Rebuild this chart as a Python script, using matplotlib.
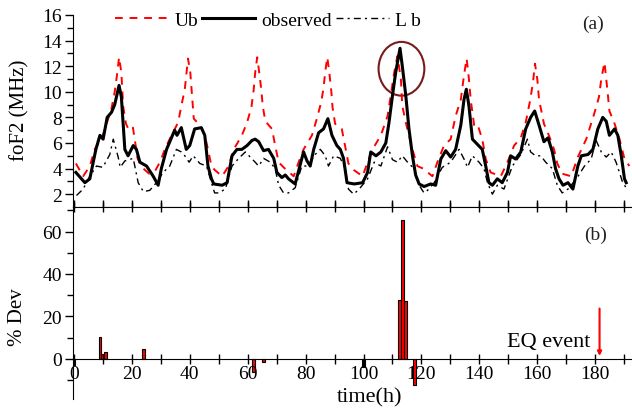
import matplotlib
matplotlib.use("Agg")
import matplotlib.pyplot as plt
from matplotlib.patches import Ellipse

# ---------------- data ----------------
obs_t = [0.7, 3.8, 5.5, 6.7, 7.6, 9.0, 10.1, 11.5, 13.0, 14.1, 15.6, 16.4, 17.6, 18.7, 20.5, 21.6, 22.8,
         25.1, 27.4, 29.1, 30.2, 32.0, 33.7, 34.8, 35.6, 37.1, 38.8, 40.0, 41.7, 44.0, 45.2, 46.3, 47.5,
         48.3, 51.2, 52.9, 54.6, 56.3, 58.0, 59.8, 61.5, 62.6, 63.8, 65.5, 67.2, 69.0, 70.1, 71.8,
         73.0, 74.1, 76.4, 77.8, 79.3, 80.5, 81.6, 82.8, 84.5, 86.2, 87.7, 89.1, 90.8, 92.0, 93.1, 94.3,
         96.8, 99.7, 101.4, 102.5, 104.3, 106.0, 107.7, 108.8, 110.0, 111.1, 112.6, 113.4, 114.6, 115.7,
         116.9, 118.0, 119.2, 120.9, 123.2, 124.9, 126.7, 128.4, 130.1, 131.8, 133.6, 134.7, 135.5, 136.4,
         137.6, 139.3, 141.0, 142.2, 143.3, 144.5, 146.2, 147.9, 149.7, 150.8, 152.5, 154.3, 156.0, 157.7,
         159.1, 160.6, 162.3, 163.7, 165.2, 166.3, 167.5, 168.9, 170.6, 172.3, 174.0, 175.2, 177.5, 179.2,
         180.9, 182.6, 183.8, 184.9, 186.7, 187.8, 189.0, 190.1, 190.7]
obs_v = [3.7, 2.9, 3.2, 4.5, 5.5, 6.6, 6.3, 8.0, 8.4, 9.0, 10.5, 9.6, 5.5, 5.0, 5.8, 5.5, 4.5,
         4.2, 3.4, 2.7, 4.0, 5.5, 6.4, 7.0, 6.6, 7.2, 5.5, 5.8, 7.1, 7.2, 6.6, 4.2, 3.2,
         2.8, 2.7, 2.9, 5.0, 5.5, 5.5, 5.8, 6.2, 6.3, 6.1, 5.4, 5.5, 4.8, 3.7, 3.3,
         3.5, 3.2, 2.8, 4.0, 5.3, 4.6, 4.2, 5.5, 6.8, 7.1, 7.9, 6.6, 5.8, 5.5, 4.8, 2.9,
         2.8, 2.9, 3.7, 5.3, 5.0, 5.3, 6.0, 7.6, 9.7, 11.5, 13.4, 12.0, 9.7, 7.1,
         5.0, 3.5, 2.8, 2.6, 2.8, 2.7, 4.75, 5.4, 4.9, 5.5, 7.4, 9.4, 10.2, 8.9,
         6.3, 5.9, 5.5, 4.2, 2.9, 2.7, 3.2, 2.9, 3.7, 5.0, 4.75, 5.3, 7.1, 8.0,
         8.5, 7.4, 6.1, 6.4, 5.3, 4.0, 3.2, 2.7, 2.9, 2.4, 4.2, 5.0, 5.1, 5.5,
         7.1, 8.0, 7.7, 6.6, 7.1, 6.6, 5.0, 3.2, 2.9]

ub_t = [0.7, 3.2, 5.5, 7.2, 10.0, 13.0, 14.1, 15.0, 15.6, 16.4, 17.0, 18.0, 19.0, 20.4, 21.2, 22.0, 23.0,
        24.0, 26.0, 28.0, 29.7, 31.4, 33.7, 36.0, 37.1, 38.3, 39.4, 40.2, 40.9, 41.4, 43.5, 45.2, 46.3, 47.5,
        48.6, 51.2, 53.4, 55.2, 58.0, 59.8, 61.3, 62.1, 62.6, 63.3, 64.0, 64.7, 65.2, 66.1, 68.4, 69.5, 70.7,
        72.4, 75.9, 77.6, 79.3, 82.2, 83.9, 85.4, 86.2, 86.8, 87.5, 88.2, 88.9, 89.3, 90.2, 92.5, 93.7, 94.8,
        96.6, 99.7, 101.4, 103.1, 106.0, 108.3, 109.4, 110.6, 111.7, 112.9, 113.4, 114.6, 115.7, 116.9, 118.6,
        120.6, 123.8, 125.5, 127.8, 130.1, 131.8, 133.6, 134.7, 135.6, 136.4, 137.0, 138.2, 139.3, 141.0, 142.2,
        143.9, 147.4, 149.7, 152.0, 154.3, 156.0, 157.5, 158.5, 159.2, 160.0, 160.6, 162.3, 164.0, 165.8, 166.9,
        168.6, 171.7, 174.0, 176.9, 179.8, 181.3, 182.1, 183.2, 184.4, 184.9, 186.7, 188.4, 190.1, 191.8]
ub_v = [4.4, 3.4, 4.2, 5.5, 6.6, 8.7, 10.0, 11.5, 12.7, 11.5, 8.9, 7.5, 7.0, 7.2, 6.0, 4.8, 4.3,
        4.0, 3.6, 3.8, 4.5, 5.5, 6.6, 7.6, 8.9, 10.2, 12.6, 11.5, 9.4, 7.9, 7.4, 6.6, 5.5, 4.2,
        3.9, 3.4, 4.2, 5.5, 6.6, 7.6, 8.8, 10.2, 11.5, 12.7, 11.5, 10.2, 8.9, 7.7, 7.1, 5.8, 4.5,
        4.1, 3.4, 4.5, 5.5, 6.6, 7.9, 9.2, 10.3, 11.6, 12.7, 11.5, 10.0, 8.8, 7.5, 7.1, 5.7, 4.4,
        3.9, 3.4, 4.5, 5.5, 6.6, 8.1, 9.7, 11.5, 12.8, 11.0, 8.9, 7.6, 6.6, 5.5, 4.2,
        4.0, 3.4, 4.5, 5.8, 6.3, 8.1, 9.4, 11.3, 12.6, 11.0, 9.4, 7.4, 7.5, 6.3, 4.75,
        3.7, 3.4, 4.5, 5.8, 6.4, 7.6, 9.3, 10.7, 12.2, 11.0, 9.4, 7.5, 6.6, 5.5, 4.4,
        3.6, 3.4, 4.9, 6.3, 8.4, 9.6, 11.0, 12.3, 9.7, 8.5, 7.5, 6.3, 4.75, 4.2]

lb_t = [0.9, 3.2, 5.5, 7.8, 10.0, 12.4, 13.6, 15.3, 16.0, 17.6, 20.5, 22.2, 24.0, 26.2, 28.5, 30.8, 33.1,
        35.4, 37.1, 38.3, 39.8, 41.2, 43.5, 45.8, 47.5, 48.6, 50.0, 52.3, 54.6, 56.9, 59.2, 60.9, 62.6, 63.8,
        65.5, 67.8, 69.5, 70.7, 72.4, 74.1, 76.4, 78.7, 81.0, 83.3, 85.1, 86.8, 87.9, 89.7, 92.0, 93.7, 94.8,
        96.6, 98.5, 101.4, 103.7, 106.0, 108.3, 110.0, 111.7, 113.4, 115.2, 117.5, 119.2, 120.9, 122.1, 124.4,
        127.2, 130.1, 133.0, 134.7, 135.9, 137.6, 139.9, 141.6, 142.8, 144.5, 146.2, 148.5, 151.4, 154.3,
        156.6, 157.7, 159.4, 161.2, 162.9, 165.2, 166.9, 168.6, 170.6, 173.5, 176.3, 178.6, 180.3, 182.1,
        183.8, 185.5, 187.2, 189.5, 191.3]
lb_v = [1.9, 2.4, 3.4, 4.2, 4.1, 5.1, 6.3, 4.9, 4.1, 4.6, 4.8, 2.9, 2.2, 2.3, 2.9, 3.7, 4.2,
        5.5, 5.3, 5.0, 4.5, 5.0, 4.4, 4.2, 2.9, 2.1, 2.1, 2.4, 4.2, 4.8, 5.3, 4.9, 4.5, 4.2,
        4.8, 4.5, 4.0, 2.7, 2.1, 2.1, 2.5, 4.2, 4.2, 5.1, 5.5, 5.0, 4.2, 5.0, 4.8, 4.0, 2.4,
        2.0, 2.4, 3.2, 4.5, 4.2, 5.7, 4.7, 4.5, 5.0, 4.5, 4.0, 2.7, 2.1, 2.3, 2.9,
        4.1, 4.5, 5.5, 4.75, 4.1, 5.0, 4.5, 4.0, 2.9, 2.0, 2.7, 2.4, 4.2, 5.1,
        6.3, 5.3, 5.0, 5.0, 4.5, 4.0, 2.7, 2.1, 2.4, 3.2, 4.2, 4.75, 6.2, 5.3,
        4.9, 5.3, 4.5, 2.9, 2.3]

dev_t = [0, 9, 10, 11, 24, 62, 65.5, 100, 112.4, 113.5, 114.5, 117.7]
dev_v = [-3, 10.2, 2.4, 3.4, 4.4, -6.3, -1.6, -3.8, 27.9, 65.5, 27.2, -12.6]
dev_black = [True, False, False, False, False, False, False, True, False, False, False, False]

eq_time = 181.5
eq_top = 25

x_ticks = [0, 20, 40, 60, 80, 100, 120, 140, 160, 180]
foF2_ticks = [2, 4, 6, 8, 10, 12, 14, 16]
dev_ticks = [0, 20, 40, 60]

# ---------------- figure ----------------
plt.rcParams['font.family'] = ['Liberation Serif', 'DejaVu Serif']
fig = plt.figure(figsize=(6.32, 4.14), dpi=100)
W, H = 632, 414
left = 73 / W
width = (632 - 73) / W
ax1 = fig.add_axes([left, 1 - 208 / H, width, (208 - 16) / H])
ax2 = fig.add_axes([left, 1 - 400 / H, width, (400 - 208) / H])

xlim = (-0.3, 192.7)

# ---- top panel ----
ax1.plot(ub_t, ub_v, color='red', lw=1.4, dashes=(4, 3.5), label='Ub')
ax1.plot(obs_t, obs_v, color='black', lw=2.2, label='observed')
ax1.plot(lb_t, lb_v, color='black', lw=1.0, dashes=(5, 3, 1.5, 3), label='L b')
ax1.add_patch(Ellipse((113.1, 11.8), 15.8, 4.2, fill=False, edgecolor='#7a1a1a', lw=1.5))
ax1.set_xlim(*xlim)
ax1.set_ylim(1, 16)
ax1.set_yticks(foF2_ticks)
ax1.set_yticks(range(2, 17), minor=True)
ax1.set_xticks(range(0, 193, 10))
ax1.set_xticklabels([])
for s in ('top', 'right'):
    ax1.spines[s].set_visible(False)
ax1.tick_params(axis='y', which='major', direction='out', length=6, width=1, labelsize=14, pad=2)
ax1.tick_params(axis='y', which='minor', direction='out', length=4, width=1)
ax1.tick_params(axis='x', which='major', direction='in', length=5, width=1)
ax1.text(0.93, 0.955, '(a)', transform=ax1.transAxes, fontsize=14, ha='center', va='center',
         color='#222222')
ax1.legend(loc='center left', bbox_to_anchor=(0.075, 0.972), ncol=3, frameon=False,
           fontsize=14, handlelength=2.75, handletextpad=0.3, columnspacing=0.2,
           borderaxespad=0, borderpad=0)

# ---- bottom panel ----
colors = ['black' if b else 'red' for b in dev_black]
ax2.bar(dev_t, dev_v, width=0.95, color=colors, edgecolor='black', linewidth=0.8)
ax2.annotate('', xy=(eq_time, 0), xytext=(eq_time, eq_top),
             arrowprops=dict(arrowstyle='-|>', color='red', lw=1.5, mutation_scale=6))
ax2.text(eq_time - 3, 8, 'EQ event', fontsize=16, ha='right', va='center')
ax2.text(0.935, 0.855, '(b)', transform=ax2.transAxes, fontsize=14, ha='center', va='center',
         color='#222222')
ax2.set_xlim(*xlim)
ax2.set_ylim(-19, 71.6)
ax2.spines['bottom'].set_position(('data', 0))
ax2.spines['right'].set_visible(False)
ax2.set_yticks(dev_ticks)
ax2.set_yticks(range(-10, 71, 10), minor=True)
ax2.set_xticks(x_ticks)
ax2.set_xticks(range(0, 193, 10), minor=True)
ax2.tick_params(axis='y', which='major', direction='out', length=6, width=1, labelsize=14, pad=2)
ax2.tick_params(axis='y', which='minor', direction='out', length=4, width=1)
ax2.tick_params(axis='x', which='both', direction='inout', length=7, width=1, labelsize=14,
                top=True, pad=1)

fig.text(20 / W, 1 - 110 / H, 'foF2 (MHz)', rotation=90, fontsize=15, ha='center', va='center')
fig.text(18 / W, 1 - 317 / H, '% Dev', rotation=90, fontsize=15, ha='center', va='center')
fig.text(370 / W, 1 - 398 / H, 'time(h)', fontsize=16, ha='center', va='center')

fig.savefig('out.png', dpi=100)
